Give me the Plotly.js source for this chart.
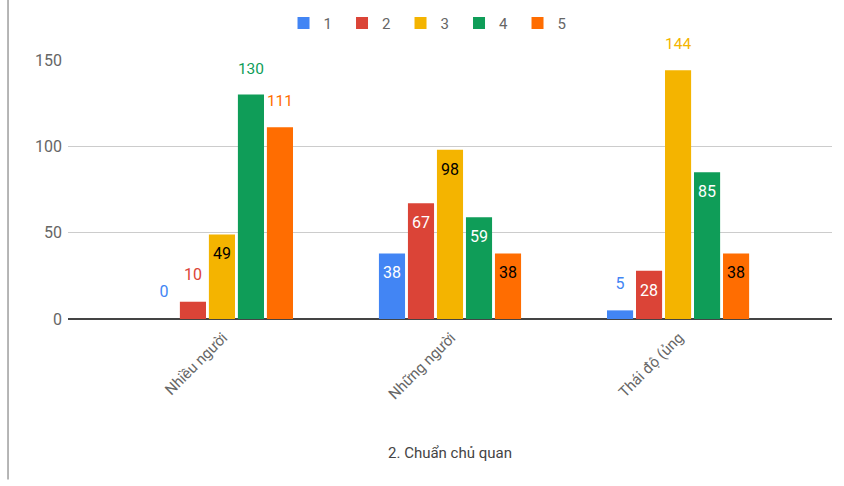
<!DOCTYPE html>
<html><head><meta charset="utf-8">
<script src="https://cdn.plot.ly/plotly-3.0.1.min.js"></script>
<style>html,body{margin:0;padding:0;background:#fff}#c{width:844px;height:486px}</style>
</head><body><div id="c"></div>
<script>
const categories = ["Nhiều người", "Những người", "Thái độ (ủng"];
const seriesNames = ["1", "2", "3", "4", "5"];
const s1 = [0, 38, 5];
const s2 = [10, 67, 28];
const s3 = [49, 98, 144];
const s4 = [130, 59, 85];
const s5 = [111, 38, 38];
const yTicks = [0, 50, 100, 150];
const xTitle = "2. Chuẩn chủ quan";

const values = [s1, s2, s3, s4, s5];
const colors = ["#4285F4", "#DB4437", "#F4B400", "#0F9D58", "#FF6D01"];
const insideColors = ["#ffffff", "#ffffff", "#000000", "#ffffff", "#000000"];

const traces = values.map((v, i) => {
  const pos = v.map(y => (y >= 100 || y < 20) ? "outside" : "inside");
  return {
    type: "bar", name: seriesNames[i], x: categories, y: v,
    marker: {color: colors[i]},
    textposition: pos,
    texttemplate: pos.map(p => p === "outside"
      ? "<span style='font-size:16px'>%{y}</span><br> "
      : "&nbsp;<br><span style='font-size:16px'>%{y}</span>"),
    insidetextanchor: "end",
    textangle: 0,
    insidetextfont: {family: "Roboto", size: 10, color: insideColors[i]},
    outsidetextfont: {family: "Roboto", size: 12, color: colors[i]},
    cliponaxis: false,
    hoverinfo: "none"
  };
});

const layout = {
  width: 844, height: 486,
  margin: {l: 68, r: 12, t: 60, b: 167},
  paper_bgcolor: "#fff", plot_bgcolor: "#fff",
  font: {family: "Roboto", color: "#666"},
  barmode: "group", bargap: 0.364, bargroupgap: 0.1,
  showlegend: true,
  legend: {orientation: "h", x: 0.5095, xanchor: "center", xref: "container",
           y: 0.952, yanchor: "middle", yref: "container", bgcolor: "rgba(0,0,0,0)",
           font: {size: 15, color: "#666"}, entrywidth: 13.5, entrywidthmode: "pixels"},
  xaxis: {
    type: "category", range: [-0.675, 2.675],
    tickangle: -45, tickfont: {size: 15, color: "#666"},
    ticklabelshift: 1, ticklabelstandoff: 6,
    showgrid: false, ticks: "", showline: false,
    automargin: false,
    title: {text: xTitle, font: {size: 15, color: "#444"}, standoff: 45}
  },
  yaxis: {
    range: [0, 150], tickvals: yTicks, ticktext: yTicks.map(String),
    tickfont: {size: 16, color: "#666"},
    ticklabelstandoff: 5,
    gridcolor: "#cccccc", gridwidth: 1,
    zeroline: true, zerolinecolor: "#444", zerolinewidth: 1.5,
    showline: false, ticks: "", automargin: false
  },
  shapes: [{type: "line", xref: "paper", yref: "paper", x0: -0.0785, x1: -0.0785,
            y0: -0.62, y1: 1.232, line: {color: "#9e9e9e", width: 1.5}}]
};
Plotly.newPlot("c", traces, layout, {displayModeBar: false, staticPlot: true});
</script></body></html>
